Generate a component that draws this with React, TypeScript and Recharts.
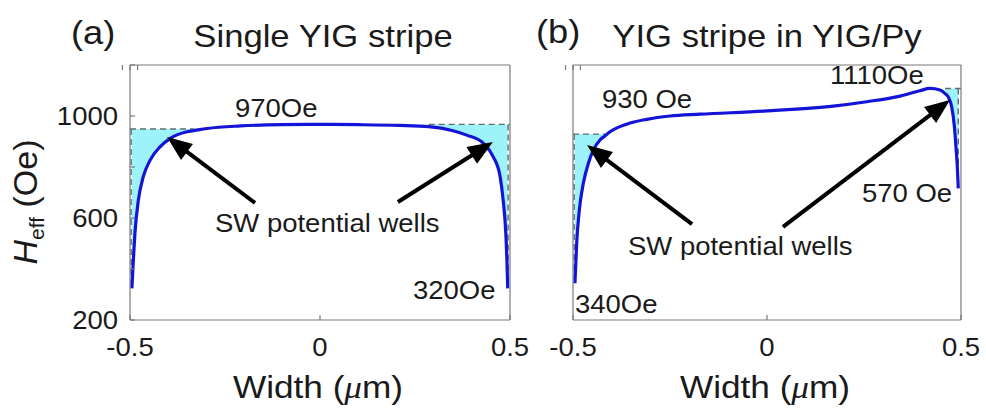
import React from "react";
import { Area, ComposedChart, Line, ReferenceLine, XAxis, YAxis } from "recharts";

const xTicks = [-0.5, 0, 0.5];
const yTicks = [200, 400, 600, 800, 1000, 1200];
const yLabelTicks = [200, 600, 1000];

// (a) single YIG stripe
const widthA = [
  -0.495, -0.491, -0.487, -0.478, -0.465, -0.447, -0.421, -0.394, -0.35, -0.33, -0.297, -0.209, -0.1, 0,
  0.1, 0.21, 0.286, 0.35, 0.386, 0.43, 0.456, 0.474, 0.482, 0.489, 0.492, 0.494,
];
const heffA = [
  324, 440, 541, 670, 762, 827, 879, 912, 938, 943, 951, 961, 966, 967, 966, 963, 958, 942, 925, 893, 840,
  762, 670, 540, 430, 324,
];
const wellsA = [
  { from: -0.5, to: -0.33, level: 949, wall: -0.497, floor: 324 },
  { from: 0.286, to: 0.5, level: 967, wall: 0.495, floor: 330 },
];
const arrowsA = [
  { tail: [-0.171, 659], tip: [-0.4026, 918] },
  { tail: [0.205, 663], tip: [0.455, 898] },
];

// (b) YIG stripe in YIG/Py
const widthB = [
  -0.495, -0.4905, -0.4837, -0.4734, -0.4605, -0.4476, -0.4304, -0.4175, -0.4046, -0.3616, -0.31, -0.25,
  -0.1727, 0, 0.171, 0.257, 0.343, 0.394, 0.42, 0.446, 0.459, 0.467, 0.476, 0.483, 0.487, 0.4905, 0.493,
];
const heffB = [
  344, 501, 631, 736, 814, 866, 906, 922, 938, 968, 987, 1000, 1007, 1020, 1039, 1056, 1078, 1099, 1108,
  1102, 1088, 1075, 1036, 958, 879, 801, 716,
];
const wellsB = [
  { from: -0.5, to: -0.4175, level: 929, wall: -0.497, floor: 344 },
  { from: 0.459, to: 0.5, level: 1108, wall: 0.493, floor: 716 },
];
const arrowsB = [
  { tail: [-0.1933, 576], tip: [-0.4639, 886] },
  { tail: [0.0412, 565], tip: [0.4716, 1063] },
];

const FONT = "'Liberation Sans', Arial, sans-serif";
const FRAME = "#7a7a7a";
const INK = "#1a1a1a";
const BLUE = "#1414d8";
const CYAN = "#9ef2f9";
const SX = 1.1;

const Arrow = (p: any) => {
  const { x1, y1, x2, y2 } = p;
  if ([x1, y1, x2, y2].some((v) => typeof v !== "number" || isNaN(v))) return null;
  const len = Math.hypot(x2 - x1, y2 - y1);
  const ux = (x2 - x1) / len;
  const uy = (y2 - y1) / len;
  const hl = 25;
  const hw = 10;
  const bx = x2 - ux * hl;
  const by = y2 - uy * hl;
  return (
    <g>
      <line x1={x1} y1={y1} x2={bx + ux * 2} y2={by + uy * 2} stroke="#000" strokeWidth={4} />
      <polygon
        points={`${x2},${y2} ${bx - uy * hw},${by + ux * hw} ${bx + uy * hw},${by - ux * hw}`}
        fill="#000"
      />
    </g>
  );
};

const BottomTick = (p: any) => (
  <g>
    <line x1={p.x} y1={p.y} x2={p.x} y2={p.y - 5} stroke={FRAME} strokeWidth={1.2} />
    <text
      transform={`translate(${p.x},${p.y + 36}) scale(${SX},1)`}
      textAnchor="middle"
      fontSize={25}
      fontFamily={FONT}
      fill={INK}
    >
      {String(p.payload.value)}
    </text>
  </g>
);

const TopTick = (p: any) => <line x1={p.x} y1={p.y} x2={p.x} y2={p.y + 5} stroke={FRAME} strokeWidth={1.2} />;

const LeftTick = (p: any) => (
  <g>
    <line x1={p.x} y1={p.y} x2={p.x + 5} y2={p.y} stroke={FRAME} strokeWidth={1.2} />
    {yLabelTicks.includes(p.payload.value) && (
      <text
        transform={`translate(${p.x - 12},${p.y + 9}) scale(${SX},1)`}
        textAnchor="end"
        fontSize={25}
        fontFamily={FONT}
        fill={INK}
      >
        {String(p.payload.value)}
      </text>
    )}
  </g>
);

const RightTick = (p: any) => <line x1={p.x} y1={p.y} x2={p.x - 5} y2={p.y} stroke={FRAME} strokeWidth={1.2} />;

interface Well {
  from: number;
  to: number;
  level: number;
  wall: number;
  floor: number;
}

interface PanelProps {
  left: number;
  width: number;
  margin: { top: number; right: number; bottom: number; left: number };
  xs: number[];
  ys: number[];
  wells: Well[];
  arrows: { tail: number[]; tip: number[] }[];
  yTicked: boolean;
}

const Panel = ({ left, width, margin, xs, ys, wells, arrows, yTicked }: PanelProps) => {
  const rows = xs.map((x, i) => {
    const w = wells.find((k) => x >= k.from && x <= k.to);
    return { x, h: ys[i], well: w ? [ys[i], w.level] : null };
  });
  return (
    <div style={{ position: "absolute", left, top: 0 }}>
      <ComposedChart width={width} height={412} data={rows} margin={margin}>
        <XAxis
          dataKey="x"
          type="number"
          domain={[-0.5, 0.5]}
          ticks={xTicks}
          interval={0}
          height={40}
          tickSize={0}
          tickMargin={0}
          tickLine={false}
          axisLine={{ stroke: FRAME, strokeWidth: 1.2 }}
          tick={BottomTick}
          allowDataOverflow
        />
        <XAxis
          xAxisId="top"
          orientation="top"
          type="number"
          domain={[-0.5, 0.5]}
          ticks={xTicks}
          interval={0}
          height={10}
          tickSize={0}
          tickMargin={0}
          tickLine={false}
          axisLine={{ stroke: FRAME, strokeWidth: 1.2 }}
          tick={TopTick}
        />
        <YAxis
          type="number"
          domain={[200, 1200]}
          ticks={yTicks}
          interval={0}
          width={yTicked ? 60 : 10}
          tickSize={0}
          tickMargin={0}
          tickLine={false}
          axisLine={{ stroke: FRAME, strokeWidth: 1.2 }}
          tick={yTicked ? LeftTick : false}
          allowDataOverflow
        />
        <YAxis
          yAxisId="right"
          orientation="right"
          type="number"
          domain={[200, 1200]}
          ticks={yTicks}
          interval={0}
          width={10}
          tickSize={0}
          tickMargin={0}
          tickLine={false}
          axisLine={{ stroke: FRAME, strokeWidth: 1.2 }}
          tick={yTicked ? RightTick : false}
        />
        <Area
          dataKey="well"
          type="monotone"
          fill={CYAN}
          fillOpacity={1}
          stroke="none"
          connectNulls={false}
          isAnimationActive={false}
        />
        {wells.map((w, i) => (
          <ReferenceLine
            key={`t${i}`}
            segment={[
              { x: w.from, y: w.level },
              { x: w.to, y: w.level },
            ]}
            stroke="#5e6e6e"
            strokeWidth={1.4}
            strokeDasharray="6 4"
          />
        ))}
        {wells.map((w, i) => (
          <ReferenceLine
            key={`v${i}`}
            segment={[
              { x: w.wall, y: w.level },
              { x: w.wall, y: w.floor },
            ]}
            stroke="#5e6e6e"
            strokeWidth={1.4}
            strokeDasharray="6 4"
          />
        ))}
        <Line
          dataKey="h"
          type="monotone"
          stroke={BLUE}
          strokeWidth={3.2}
          dot={false}
          isAnimationActive={false}
        />
        {arrows.map((a, i) => (
          <ReferenceLine
            key={`a${i}`}
            segment={[
              { x: a.tail[0], y: a.tail[1] },
              { x: a.tip[0], y: a.tip[1] },
            ]}
            shape={Arrow}
          />
        ))}
      </ComposedChart>
    </div>
  );
};

const T = ({ x, y, size, anchor = "start", children }: any) => (
  <text
    transform={`translate(${x},${y}) scale(${SX},1)`}
    fontSize={size}
    textAnchor={anchor}
    fontFamily={FONT}
    fill={INK}
  >
    {children}
  </text>
);

export default function App() {
  return (
    <div
      style={{ position: "absolute", left: 0, top: 0, width: 986, height: 412, background: "#fff", overflow: "hidden" }}
    >
      <Panel
        left={0}
        width={540}
        margin={{ top: 55, right: 20, bottom: 52, left: 70 }}
        xs={widthA}
        ys={heffA}
        wells={wellsA}
        arrows={arrowsA}
        yTicked
      />
      <Panel
        left={540}
        width={446}
        margin={{ top: 55, right: 15, bottom: 52, left: 23 }}
        xs={widthB}
        ys={heffB}
        wells={wellsB}
        arrows={arrowsB}
        yTicked={false}
      />
      <svg width={986} height={412} style={{ position: "absolute", left: 0, top: 0, pointerEvents: "none" }}>
        <T x={71} y={44} size={33}>(a)</T>
        <T x={323} y={47} size={31.5} anchor="middle">Single YIG stripe</T>
        <T x={536} y={43} size={33}>(b)</T>
        <T x={767} y={47} size={31.5} anchor="middle">YIG stripe in YIG/Py</T>

        <T x={235} y={117} size={25}>970Oe</T>
        <T x={215} y={232} size={25}>SW potential wells</T>
        <T x={413} y={299} size={25}>320Oe</T>

        <T x={602} y={108} size={25}>930 Oe</T>
        <T x={830} y={84} size={25}>1110Oe</T>
        <T x={862} y={202} size={25}>570 Oe</T>
        <T x={628} y={255} size={25}>SW potential wells</T>
        <T x={575} y={313} size={25}>340Oe</T>

        <T x={318} y={398} size={32} anchor="middle">
          Width (<tspan fontStyle="italic" fontFamily="'Liberation Serif', serif">μ</tspan>m)
        </T>
        <T x={765} y={398} size={32} anchor="middle">
          Width (<tspan fontStyle="italic" fontFamily="'Liberation Serif', serif">μ</tspan>m)
        </T>

        <text
          transform="translate(37,202) rotate(-90)"
          textAnchor="middle"
          fontSize={34}
          fontFamily={FONT}
          fill={INK}
        >
          <tspan fontStyle="italic">H</tspan>
          <tspan fontSize={21} dy={7}>eff</tspan>
          <tspan dy={-7}> (Oe)</tspan>
        </text>
      </svg>
    </div>
  );
}
